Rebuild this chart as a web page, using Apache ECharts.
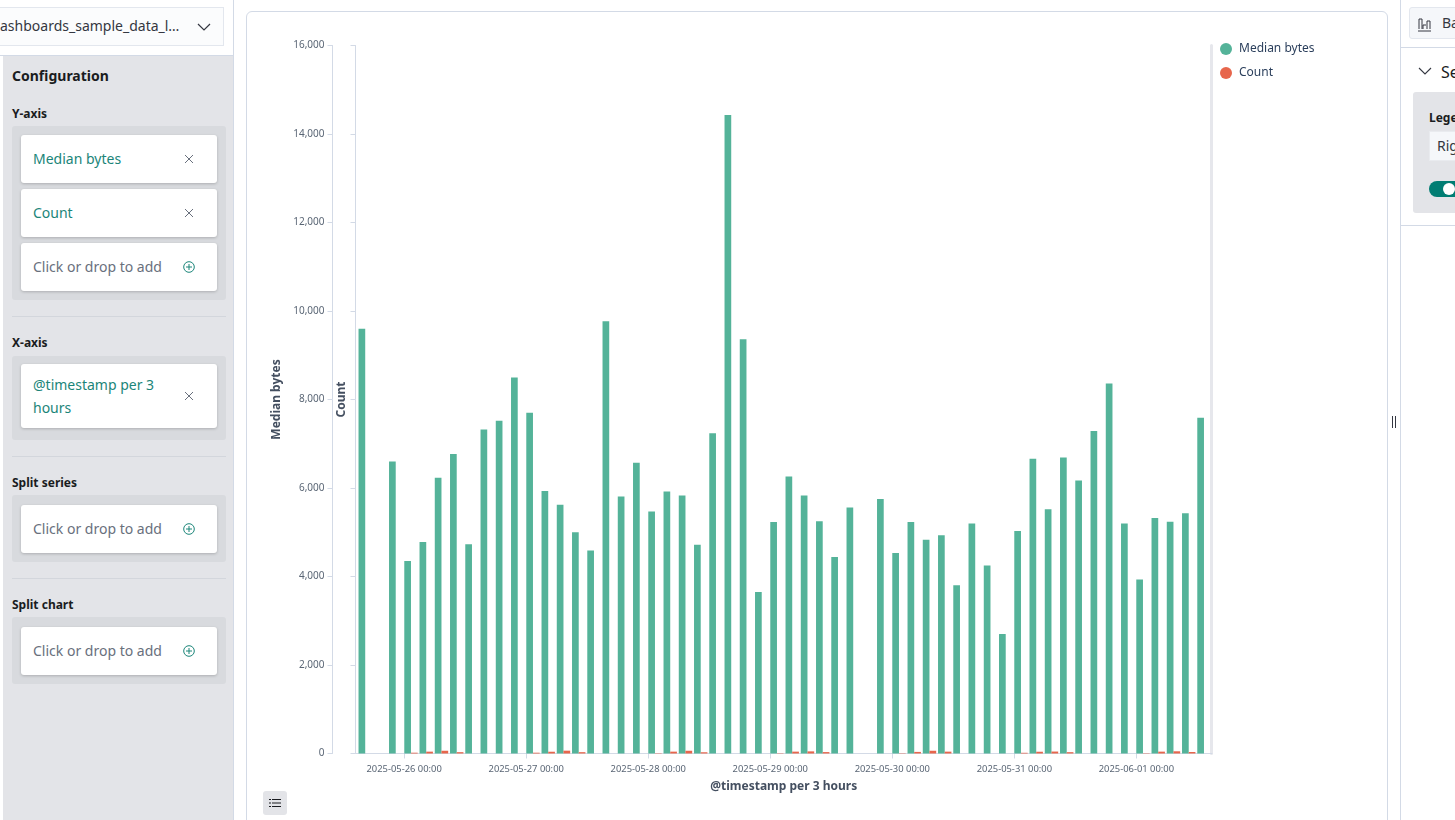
<!DOCTYPE html>
<html lang="en">

<head>
    <meta http-equiv="content-type" content="text/html;charset=UTF-8">
    <title>Median bytes and Count</title>
    <script src="https://cdn.jsdelivr.net/npm/echarts@6/dist/echarts.min.js"></script>
    <style>
        html, body { margin: 0; padding: 0; width: 1455px; height: 820px; overflow: hidden; background: #fff; }
        body { font-family: "Noto Sans", sans-serif; color: #1a1c21; position: relative; }
        .abs { position: absolute; box-sizing: border-box; white-space: nowrap; }
        .head { font-weight: 700; font-size: 12px; left: 12px; line-height: 16px; color: #1a1c21; }
        .group { left: 12px; width: 214px; background: #d8dade; border-radius: 3px; }
        .card { left: 21px; width: 196px; background: #fff; border-radius: 3px; box-shadow: 0 1px 3px rgba(0, 0, 0, .2); font-size: 14px; line-height: 23px; }
        .field { color: #1b8579; left: 33px; font-size: 14px; line-height: 23px; }
        .empty { color: #69707d; left: 33px; font-size: 14px; line-height: 23px; }
        .sep { left: 12px; width: 214px; height: 1px; background: #d3d6dc; }
        .x, .plus { left: 183px; width: 12px; height: 12px; }
    </style>
</head>

<body>
    <!-- left panel -->
    <div class="abs" style="left:-2px;top:7px;width:226px;height:39px;background:#fbfcfd;border:1px solid #e3e7ee;"></div>
    <div class="abs" style="left:0;top:16px;width:192px;overflow:hidden;font-size:14px;line-height:20px;color:#343741;">ashboards_sample_data_l…</div>
    <svg class="abs" style="left:197px;top:23px" width="14" height="8"><path d="M1 1l6 6 6-6" fill="none" stroke="#343741" stroke-width="1.2"/></svg>
    <div class="abs" style="left:0;top:55px;width:234px;height:1px;background:#d3dae6;"></div>
    <div class="abs" style="left:233px;top:0;width:1px;height:820px;background:#d3dae6;"></div>
    <div class="abs" style="left:3px;top:56px;width:230px;height:764px;background:#e3e4e8;"></div>

    <div class="abs" style="left:12px;top:66px;font-weight:700;font-size:14px;line-height:20px;">Configuration</div>

    <div class="abs head" style="top:106px">Y-axis</div>
    <div class="abs group" style="top:126px;height:174px"></div>
    <div class="abs card" style="top:135px;height:48px"></div>
    <div class="abs field" style="top:147px">Median bytes</div>
    <div class="abs card" style="top:189px;height:48px"></div>
    <div class="abs field" style="top:201px">Count</div>
    <div class="abs card" style="top:243px;height:48px"></div>
    <div class="abs empty" style="top:255px">Click or drop to add</div>
    <div class="abs sep" style="top:316px"></div>

    <div class="abs head" style="top:335px">X-axis</div>
    <div class="abs group" style="top:356px;height:84px"></div>
    <div class="abs card" style="top:364px;height:64px"></div>
    <div class="abs field" style="top:373px">@timestamp per 3</div>
    <div class="abs field" style="top:396px">hours</div>
    <div class="abs sep" style="top:456px"></div>

    <div class="abs head" style="top:475px">Split series</div>
    <div class="abs group" style="top:495px;height:67px"></div>
    <div class="abs card" style="top:505px;height:48px"></div>
    <div class="abs empty" style="top:517px">Click or drop to add</div>
    <div class="abs sep" style="top:578px"></div>

    <div class="abs head" style="top:597px">Split chart</div>
    <div class="abs group" style="top:617px;height:67px"></div>
    <div class="abs card" style="top:627px;height:48px"></div>
    <div class="abs empty" style="top:639px">Click or drop to add</div>

    <svg class="abs x" style="top:153px"><path d="M2 2l8 8M10 2l-8 8" stroke="#69707d" fill="none"/></svg>
    <svg class="abs x" style="top:207px"><path d="M2 2l8 8M10 2l-8 8" stroke="#69707d" fill="none"/></svg>
    <svg class="abs x" style="top:390px"><path d="M2 2l8 8M10 2l-8 8" stroke="#69707d" fill="none"/></svg>
    <svg class="abs plus" style="top:261px"><circle cx="6" cy="6" r="5.3" stroke="#1b8579" fill="none"/><path d="M6 3v6M3 6h6" stroke="#1b8579"/></svg>
    <svg class="abs plus" style="top:523px"><circle cx="6" cy="6" r="5.3" stroke="#1b8579" fill="none"/><path d="M6 3v6M3 6h6" stroke="#1b8579"/></svg>
    <svg class="abs plus" style="top:645px"><circle cx="6" cy="6" r="5.3" stroke="#1b8579" fill="none"/><path d="M6 3v6M3 6h6" stroke="#1b8579"/></svg>

    <!-- chart panel -->
    <div class="abs" style="left:246px;top:11px;width:1142px;height:830px;border:1px solid #d3dae6;border-radius:6px;background:#fff;"></div>
    <div id="barChart" class="abs" style="left:247px;top:12px;width:1140px;height:808px;"></div>
    <div class="abs" style="left:263px;top:791px;width:24px;height:24px;background:#e3e4e8;border-radius:3px;"></div>
    <svg class="abs" style="left:269px;top:798px" width="12" height="10"><path d="M3 1.5h9M3 5h9M3 8.5h9" stroke="#1a1c21"/><path d="M0 1.5h2M0 5h2M0 8.5h2" stroke="#1a1c21"/></svg>
    <div class="abs" style="left:1392px;top:416px;width:1px;height:12px;background:#343741;"></div>
    <div class="abs" style="left:1395px;top:416px;width:1px;height:12px;background:#343741;"></div>

    <!-- right panel -->
    <div class="abs" style="left:1400px;top:0;width:1px;height:820px;background:#d3dae6;"></div>
    <div class="abs" style="left:1409px;top:7px;width:60px;height:32px;background:#f5f7fa;border:1px solid #e3e7ee;border-radius:3px;"></div>
    <svg class="abs" style="left:1417px;top:17px" width="15" height="15"><path d="M1 14h13M2 12V2h3v10M6 12V8h3M10 12V4h3v8" fill="none" stroke="#343741"/></svg>
    <div class="abs" style="left:1442px;top:13px;font-size:14px;line-height:20px;color:#343741;">Ba</div>
    <div class="abs" style="left:1401px;top:47px;width:54px;height:1px;background:#d3dae6;"></div>
    <svg class="abs" style="left:1418px;top:67px" width="14" height="8"><path d="M1 1l6 6 6-6" fill="none" stroke="#343741" stroke-width="1.1"/></svg>
    <div class="abs" style="left:1441px;top:60px;font-size:16px;line-height:24px;color:#1a1c21;">Se</div>
    <div class="abs" style="left:1413px;top:92px;width:60px;height:121px;background:#e3e4e8;border-radius:3px;"></div>
    <div class="abs" style="left:1429px;top:110px;font-size:12px;font-weight:700;line-height:16px;">Lege</div>
    <div class="abs" style="left:1429px;top:131px;width:40px;height:30px;background:#f5f7fa;border:1px solid #e9ebef;"></div>
    <div class="abs" style="left:1437px;top:136px;font-size:14px;line-height:20px;color:#343741;">Rig</div>
    <div class="abs" style="left:1429px;top:181px;width:40px;height:16px;background:#017d73;border-radius:8px;"></div>
    <div class="abs" style="left:1443px;top:183px;width:12px;height:12px;background:#fff;border-radius:6px;"></div>
    <div class="abs" style="left:1401px;top:225px;width:54px;height:1px;background:#d3dae6;"></div>

    <script>
        // 3 hour buckets, first one is 2025-05-25 15:00
        var firstBucket = '2025-05-25T15:00:00';
        var seriesNames = ['Median bytes', 'Count'];
        var yTicks = [0, 2000, 4000, 6000, 8000, 10000, 12000, 14000, 16000];
        var medianBytes = [
            9600, null, 6600, 4350, 4780, 6230, 6770, 4730,
            7320, 7520, 8500, 7700, 5930, 5620, 5000, 4590,
            9770, 5810, 6570, 5470, 5920, 5830, 4720, 7240,
            14430, 9360, 3650, 5230, 6260, 5830, 5250, 4440,
            5560, null, 5750, 4530, 5230, 4830, 4930, 3800,
            5200, 4250, 2700, 5030, 6660, 5520, 6690, 6170,
            7290, 8360, 5200, 3930, 5320, 5240, 5430, 7590
        ];
        var count = [
            null, null, null, 18, 42, 62, 30, null,
            null, null, null, 18, 40, 64, 30, null,
            null, null, null, 8, 42, 62, 28, null,
            null, null, null, 8, 42, 48, 32, null,
            null, null, null, 8, 36, 62, 42, null,
            null, null, null, 16, 40, 44, 30, null,
            null, null, null, 8, 42, 50, 34, null
        ];

        var HOUR = 3600000;
        var t0 = new Date(firstBucket).getTime();
        var pad = function (n) { return n < 10 ? '0' + n : '' + n; };
        var buckets = medianBytes.map(function (v, i) { return t0 + i * 3 * HOUR; });

        var axisMin = new Date('2025-05-26T00:00:00').getTime() - 9.567 * HOUR;
        var axisMax = new Date('2025-06-01T00:00:00').getTime() + 14.87 * HOUR;
        var lineColor = '#d3dae6';
        var tickText = { color: '#5a6675', fontSize: 10, fontFamily: '"Noto Sans", sans-serif' };
        var titleText = { color: '#444f60', fontSize: 12, fontWeight: 'bold', fontFamily: '"Noto Sans", sans-serif' };
        var yMax = yTicks[yTicks.length - 1];

        var myChart = echarts.init(document.getElementById('barChart'));
        var option = {
            animation: false,
            legend: {
                orient: 'vertical',
                left: 968,
                top: 26,
                icon: 'circle',
                itemWidth: 12,
                itemHeight: 12,
                itemGap: 12,
                data: seriesNames,
                textStyle: { color: '#2b3f5c', fontSize: 12, padding: [0, 0, 0, 2], fontFamily: '"Noto Sans", sans-serif' }
            },
            // first grid holds the visible axes, second one the bars: they begin on the day tick, not around it
            grid: [
                { left: 108.5, top: 33.5, width: 856.5, height: 708 },
                { left: 110.6, top: 33.5, width: 854, height: 708 }
            ],
            xAxis: [
                {
                    type: 'time',
                    gridIndex: 0,
                    min: axisMin,
                    max: axisMax,
                    minInterval: 24 * HOUR,
                    maxInterval: 24 * HOUR,
                    name: '@timestamp per 3 hours',
                    nameLocation: 'middle',
                    nameGap: 27,
                    nameTextStyle: titleText,
                    axisLine: { lineStyle: { color: lineColor } },
                    axisTick: { show: true, length: 5, lineStyle: { color: lineColor } },
                    splitLine: { show: false },
                    axisLabel: Object.assign({}, tickText, {
                        margin: 11,
                        fontSize: 9.4,
                        showMinLabel: false,
                        showMaxLabel: false,
                        formatter: function (v) {
                            var d = new Date(v);
                            return d.getFullYear() + '-' + pad(d.getMonth() + 1) + '-' + pad(d.getDate()) + ' 00:00';
                        }
                    })
                },
                { type: 'category', gridIndex: 1, show: false, data: buckets }
            ],
            yAxis: [
                {
                    type: 'value',
                    gridIndex: 0,
                    position: 'left',
                    offset: 23,
                    min: 0,
                    max: yMax,
                    interval: yTicks[1],
                    name: seriesNames[0],
                    nameLocation: 'middle',
                    nameGap: 46,
                    nameTextStyle: titleText,
                    axisLine: { show: true, lineStyle: { color: lineColor } },
                    axisTick: { show: true, length: 5, lineStyle: { color: lineColor } },
                    splitLine: { show: false },
                    axisLabel: Object.assign({}, tickText, {
                        margin: 8,
                        formatter: function (v) { return v.toLocaleString('en-US'); }
                    })
                },
                {
                    type: 'value',
                    gridIndex: 0,
                    position: 'left',
                    min: 0,
                    max: yMax,
                    interval: yTicks[1],
                    name: seriesNames[1],
                    nameLocation: 'middle',
                    nameGap: 8,
                    nameTextStyle: titleText,
                    axisLine: { show: true, lineStyle: { color: lineColor } },
                    axisTick: { show: true, length: 5, lineStyle: { color: lineColor } },
                    axisLabel: { show: false },
                    splitLine: { show: false }
                },
                {
                    type: 'value',
                    gridIndex: 0,
                    position: 'right',
                    offset: -1,
                    min: 0,
                    max: yMax,
                    axisLine: { show: true, lineStyle: { color: '#e6e7ec', width: 3 } },
                    axisTick: { show: false },
                    axisLabel: { show: false },
                    splitLine: { show: false }
                },
                { type: 'value', gridIndex: 1, show: false, min: 0, max: yMax, splitLine: { show: false } }
            ],
            series: [
                {
                    name: seriesNames[0],
                    type: 'bar',
                    xAxisIndex: 1,
                    yAxisIndex: 3,
                    barWidth: 6.7,
                    barGap: 0,
                    itemStyle: { color: '#54B399' },
                    data: medianBytes
                },
                {
                    name: seriesNames[1],
                    type: 'bar',
                    xAxisIndex: 1,
                    yAxisIndex: 3,
                    barWidth: 6.7,
                    barGap: 0,
                    itemStyle: { color: '#E7664C' },
                    data: count
                }
            ]
        };
        myChart.setOption(option, true);
    </script>
</body>

</html>
